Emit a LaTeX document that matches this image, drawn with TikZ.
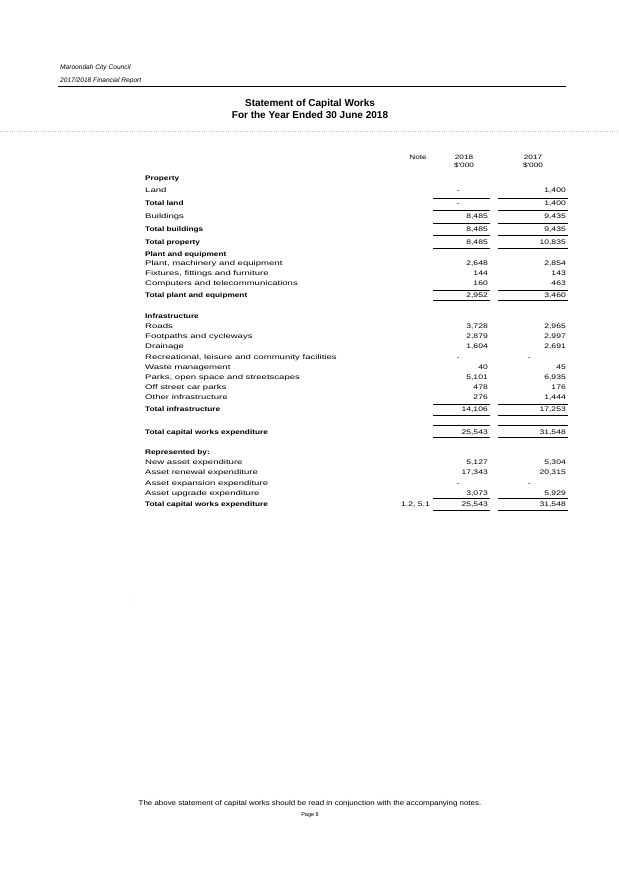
\documentclass[tikz,border=0pt]{standalone}
\usepackage{fontspec}
\setmainfont{Liberation Sans}
\newfontfamily\rfam[FakeStretch=1.45]{Liberation Sans}
\newfontfamily\bfam[FakeStretch=1.25,BoldFont={Liberation Sans Bold}]{Liberation Sans}
\newfontfamily\nfam[FakeStretch=1.3]{Liberation Sans}
\newfontfamily\ffam[FakeStretch=1.13]{Liberation Sans}
\newcommand\myrow[5]{%
 \node[#5] (r#1) at (145,#1) {#2};
 \node[na] (a#1) at (488,#1) {#3};
 \node[na] (b#1) at (566,#1) {#4};}
\newcommand\mydash[3]{%
 \node[#3] (r#1) at (145,#1) {#2};
 \node[na] (a#1) at (460,#1) {-};
 \node[na] (b#1) at (531,#1) {-};}
\newcommand\myhead[2]{\node[bl] (r#1) at (145,#1) {#2};}
\begin{document}
\begin{tikzpicture}[x=1pt,y=-1pt,
  lab/.style={anchor=base west,yshift=-2.4pt,font=\rfam\fontsize{6.6}{7}\selectfont,inner sep=0},
  bl/.style={lab,font=\bfam\fontsize{6.6}{7}\selectfont\bfseries},
  na/.style={anchor=base east,yshift=-2.4pt,font=\nfam\fontsize{6.6}{7}\selectfont,inner sep=0},
  rl/.style={line width=0.6pt}]
\useasboundingbox[fill=white] (0,0) rectangle (618,874);
\node[anchor=west,inner sep=0,font=\fontsize{6.6}{7}\selectfont\itshape] (h1) at (60,68) {Maroondah City Council};
\node[anchor=west,inner sep=0,font=\fontsize{6.6}{7}\selectfont\itshape] (h2) at (60,81) {2017/2018 Financial Report};
\draw[line width=0.6pt] (58,86) -- (566,86);
\node[font=\fontsize{10}{12}\selectfont\bfseries,align=center,inner sep=0] (t) at (310,109) {Statement of Capital Works\\For the Year Ended 30 June 2018};
\draw[gray!50,dotted] (0,131) -- (618,131);
\node[font=\nfam\fontsize{6.3}{7}\selectfont,inner sep=0] (nh) at (418,157) {Note};
\node[font=\nfam\fontsize{6.3}{7}\selectfont,inner sep=0,align=center] (c1) at (464,162) {2018\\[1pt]\$'000};
\node[font=\nfam\fontsize{6.3}{7}\selectfont,inner sep=0,align=center] (c2) at (533,162) {2017\\[1pt]\$'000};
\myhead{178}{Property}
\node[lab] (r190) at (145,190) {Land};
\node[na] (a190) at (460,190) {-};
\node[na] (b190) at (566,190) {1,400};
\node[bl] (r203) at (145,203) {Total land};
\node[na] (a203) at (460,203) {-};
\node[na] (b203) at (566,203) {1,400};
\myrow{216}{Buildings}{8,485}{9,435}{lab}
\myrow{229}{Total buildings}{8,485}{9,435}{bl}
\myrow{242}{Total property}{8,485}{10,835}{bl}
\myhead{254}{Plant and equipment}
\myrow{263}{Plant, machinery and equipment}{2,648}{2,854}{lab}
\myrow{273}{Fixtures, fittings and furniture}{144}{143}{lab}
\myrow{283}{Computers and telecommunications}{160}{463}{lab}
\myrow{295}{Total plant and equipment}{2,952}{3,460}{bl}
\myhead{316}{Infrastructure}
\myrow{326}{Roads}{3,728}{2,965}{lab}
\myrow{336}{Footpaths and cycleways}{2,879}{2,997}{lab}
\myrow{346}{Drainage}{1,604}{2,691}{lab}
\mydash{357}{Recreational, leisure and community facilities}{lab}
\myrow{367}{Waste management}{40}{45}{lab}
\myrow{377}{Parks, open space and streetscapes}{5,101}{6,935}{lab}
\myrow{387}{Off street car parks}{478}{176}{lab}
\myrow{397}{Other infrastructure}{276}{1,444}{lab}
\myrow{409}{Total infrastructure}{14,106}{17,253}{bl}
\myrow{432}{Total capital works expenditure}{25,543}{31,548}{bl}
\myhead{452}{Represented by:}
\myrow{462}{New asset expenditure}{5,127}{5,304}{lab}
\myrow{472}{Asset renewal expenditure}{17,343}{20,315}{lab}
\mydash{483}{Asset expansion expenditure}{lab}
\myrow{493}{Asset upgrade expenditure}{3,073}{5,929}{lab}
\myrow{504}{Total capital works expenditure}{25,543}{31,548}{bl}
\node[na] (n504) at (430,504) {1.2, 5.1};
\foreach \y in {198,210,223,235,248,290,300,404,415,425,437,498,510}{
 \draw[rl] (433,\y) -- (490,\y);
 \draw[rl] (498,\y) -- (568,\y);
}
\fill[gray] (133,600) circle (0.4);
\node[font=\ffam\fontsize{7}{8}\selectfont,inner sep=0] (f1) at (310,804) {The above statement of capital works should be read in conjunction with the accompanying notes.};
\node[font=\fontsize{5.5}{6}\selectfont,inner sep=0] (f2) at (310,815) {Page 8};
\end{tikzpicture}
\end{document}
